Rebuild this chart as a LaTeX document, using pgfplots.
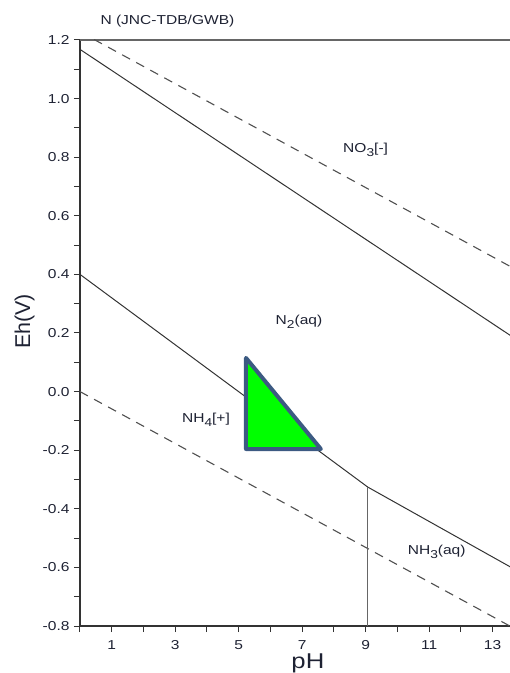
\documentclass[border=0pt]{standalone}
\usepackage{pgfplots}
\pgfplotsset{compat=1.18}
\usepackage{fontspec}
\setmainfont{Liberation Sans}[FakeStretch=1.2]
\newfontfamily\plainsans{Liberation Sans}
\newcommand\sub[1]{\raisebox{-0.55ex}{\fontsize{11.5}{12}\selectfont #1}}
\definecolor{lin}{HTML}{333333}
\definecolor{dsh}{HTML}{505050}
\definecolor{tri}{HTML}{3C5A82}
\definecolor{grn}{HTML}{00FF00}
\definecolor{txt}{HTML}{1E2233}
\begin{document}
\begin{tikzpicture}
\begin{axis}[
  name=ax,
  scale only axis,
  width=430bp, height=586bp,
  xmin=0, xmax=13.55, ymin=-0.8, ymax=1.2,
  axis lines*=left,
  axis line style={-, line width=1.2bp, color=lin},
  tick align=outside,
  major tick length=6bp, minor tick length=6bp,
  tick style={line width=1bp, color=lin},
  xtick={1,3,...,13},
  minor xtick={0,2,...,14},
  ytick={-0.8,-0.6,...,1.21},
  minor ytick={-0.7,-0.5,...,1.15},
  /pgf/number format/assume math mode=true,
  ticklabel style={font=\fontsize{13}{15}\selectfont, color=txt},
  yticklabel style={/pgf/number format/fixed, /pgf/number format/fixed zerofill, /pgf/number format/precision=1},
  xticklabel style={yshift=-5bp},
  yticklabel style={xshift=-1bp},
  xlabel={pH},
  ylabel={\plainsans Eh(V)},
  label style={font=\fontsize{21.5}{24}\selectfont, color=txt},
  xlabel style={at={(axis description cs:0.53,0)}, anchor=north, yshift=-24bp},
  ylabel style={at={(axis description cs:0,0.52)}, anchor=south, yshift=42bp},
  clip=true,
]
\draw[line width=2bp, color=black!60] (rel axis cs:0,1) -- (rel axis cs:1,1);
% water stability lines
\addplot[dsh, line width=1.1bp, dash pattern=on 9bp off 7bp] coordinates {(0,1.228) (14,0.401)};
\addplot[dsh, line width=1.1bp, dash pattern=on 9bp off 7bp] coordinates {(0,0) (14,-0.827)};
% boundaries
\addplot[lin, line width=1bp] coordinates {(0,1.168) (14,0.160)};
\addplot[lin, line width=1bp] coordinates {(0,0.40) (9.07,-0.326) (14,-0.625)};
\addplot[black!60, line width=1bp] coordinates {(9.07,-0.326) (9.07,-0.8)};
% triangle
\addplot[draw=tri, fill=grn, line width=4bp, line join=round] coordinates {(5.23,0.115) (5.23,-0.196) (7.59,-0.196)} -- cycle;
% labels
\node[font=\fontsize{13}{15}\selectfont, text=txt] at (axis cs:9.0,0.825) {NO\sub{3}[-]};
\node[font=\fontsize{13}{15}\selectfont, text=txt] at (axis cs:6.90,0.238) {N\sub{2}(aq)};
\node[font=\fontsize{13}{15}\selectfont, text=txt] at (axis cs:3.97,-0.097) {NH\sub{4}[+]};
\node[font=\fontsize{13}{15}\selectfont, text=txt] at (axis cs:11.24,-0.547) {NH\sub{3}(aq)};
\end{axis}
\node[anchor=base west, font=\fontsize{13}{15}\selectfont, text=txt] at ([shift={(17bp,15bp)}]ax.north west) {N (JNC-TDB/GWB)};
\pgfresetboundingbox
\path ([shift={(-80bp,-47bp)}]ax.south west) rectangle ([shift={(0bp,40bp)}]ax.north east);
\end{tikzpicture}
\end{document}
